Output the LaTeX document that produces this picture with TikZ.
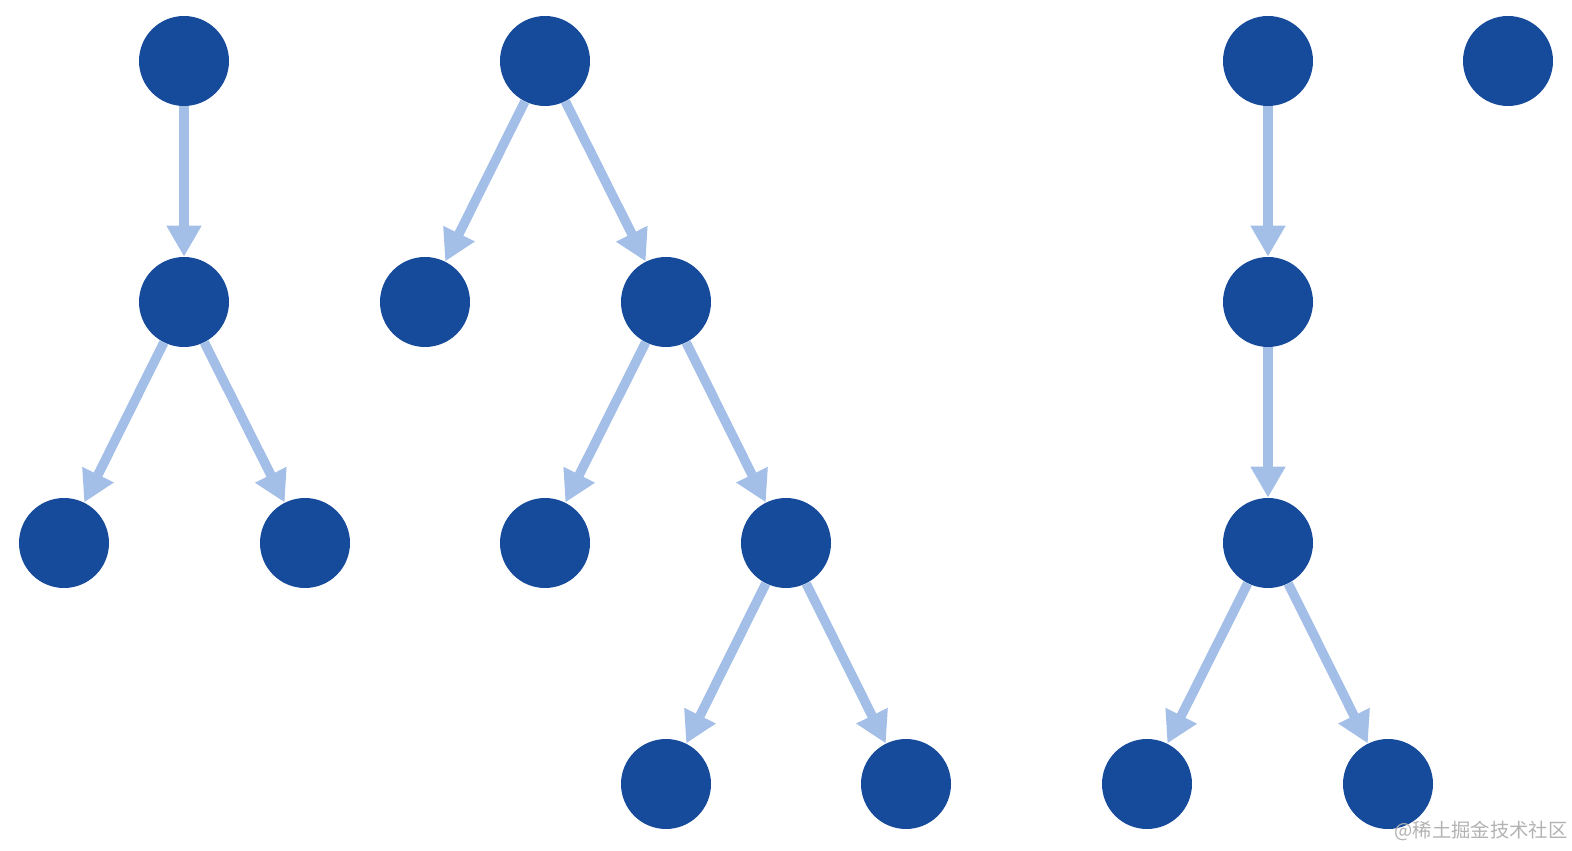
\documentclass[tikz,border=0pt]{standalone}
\usepackage{fontspec}
\newfontfamily\cjkfont{Noto Sans CJK SC}
\usetikzlibrary{arrows.meta}
\definecolor{nodeblue}{HTML}{164A9A}
\definecolor{edgeblue}{HTML}{A3BFE8}
\begin{document}
\begin{tikzpicture}[
        vertex/.style={circle,fill=nodeblue,minimum size=1.8cm,inner sep=0pt},
        edge/.style={draw=edgeblue,line width=0.19cm,-{Triangle[length=0.62cm,width=0.66cm]}}
        ]
                \useasboundingbox (0,0) rectangle (31.44,17);
                % first tree
                \node[vertex] (a1) at (3.68,15.78) {};
                \node[vertex] (a2) at (3.68,10.96) {};
                \node[vertex] (a3) at (1.28,6.14) {};
                \node[vertex] (a4) at (6.10,6.14) {};
                \draw[edge] (a1)--(a2);
                \draw[edge] (a2)--(a3);
                \draw[edge] (a2)--(a4);
                % second tree
                \node[vertex] (b1) at (10.90,15.78) {};
                \node[vertex] (b2) at (8.50,10.96) {};
                \node[vertex] (b3) at (13.32,10.96) {};
                \node[vertex] (b4) at (10.90,6.14) {};
                \node[vertex] (b5) at (15.72,6.14) {};
                \node[vertex] (b6) at (13.32,1.32) {};
                \node[vertex] (b7) at (18.12,1.32) {};
                \draw[edge] (b1)--(b2);
                \draw[edge] (b1)--(b3);
                \draw[edge] (b3)--(b4);
                \draw[edge] (b3)--(b5);
                \draw[edge] (b5)--(b6);
                \draw[edge] (b5)--(b7);
                % third tree
                \node[vertex] (c1) at (25.36,15.78) {};
                \node[vertex] (c2) at (25.36,10.96) {};
                \node[vertex] (c3) at (25.36,6.14) {};
                \node[vertex] (c4) at (22.94,1.32) {};
                \node[vertex] (c5) at (27.76,1.32) {};
                \draw[edge] (c1)--(c2);
                \draw[edge] (c2)--(c3);
                \draw[edge] (c3)--(c4);
                \draw[edge] (c3)--(c5);
                % single node
                \node[vertex] (d1) at (30.16,15.78) {};
                \node[text=gray!60,font=\cjkfont\fontsize{11}{12}\selectfont] (mark) at (29.62,0.38) {@稀土掘金技术社区};
\end{tikzpicture}
\end{document}
